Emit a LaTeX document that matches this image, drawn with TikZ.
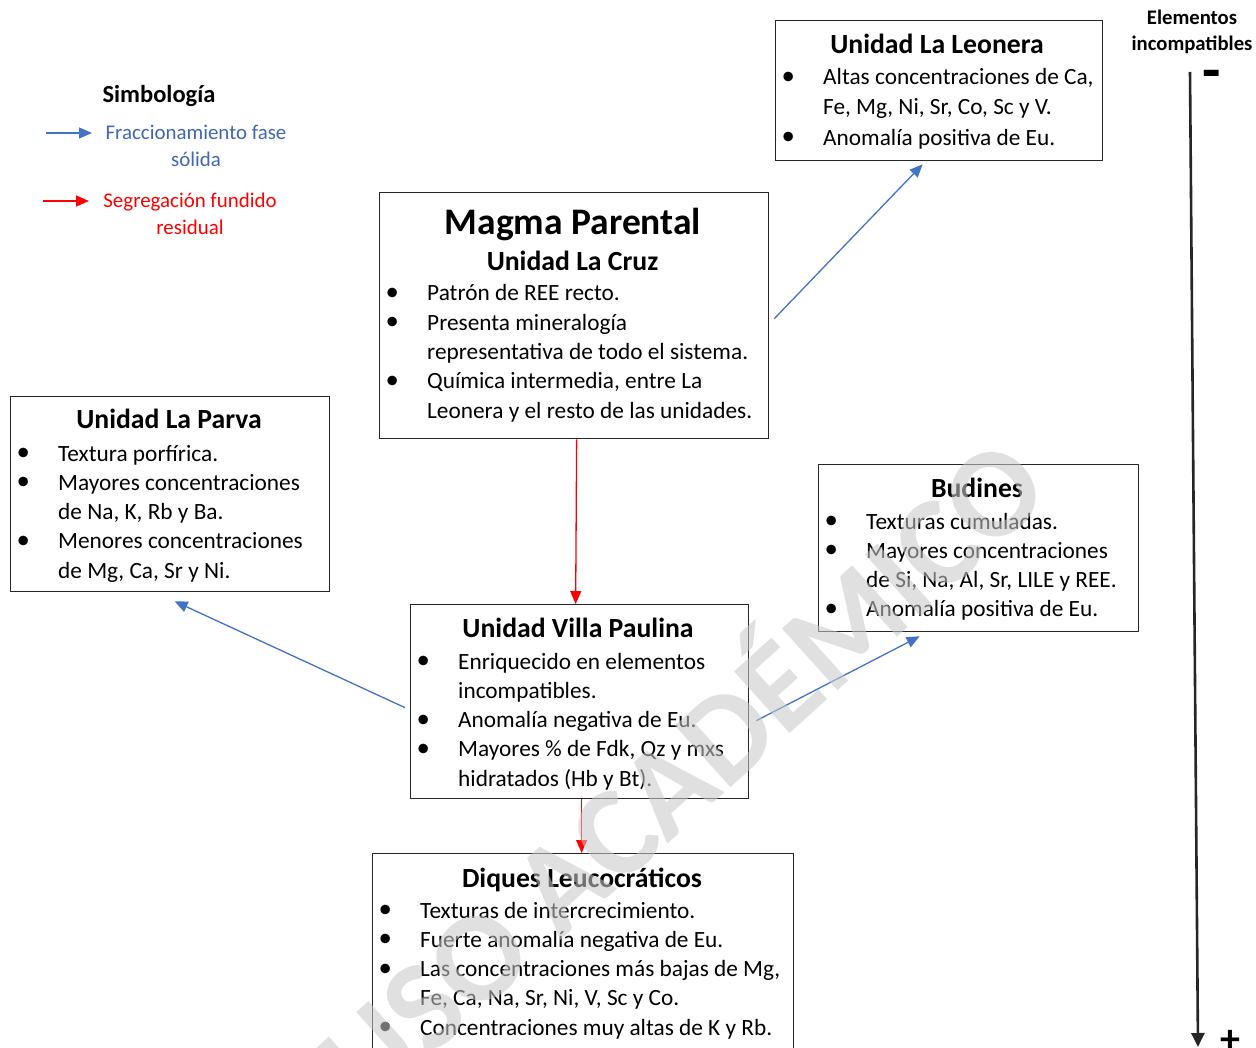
\documentclass[tikz,border=0pt]{standalone}
\usepackage{fontspec}
\setmainfont{Carlito}
\usetikzlibrary{arrows.meta}
\definecolor{fblue}{HTML}{4472C4}
\definecolor{ftext}{HTML}{4066B4}
\definecolor{fred}{HTML}{FF0000}
\definecolor{wm}{gray}{0.79}
\newcommand{\bul}{\raisebox{0.5pt}{\scalebox{1.15}{\textbullet}}}
\tikzset{
  box/.style={draw=black!85, line width=1.3pt, rectangle, inner sep=0pt, anchor=north west},
  ttl/.style={anchor=base, inner sep=0pt, font=\bfseries\fontsize{27.7}{33}\selectfont},
  body/.style={anchor=base west, inner sep=0pt, font=\fontsize{23.3}{29.3}\selectfont},
  blueflow/.style={draw=fblue, line width=1.3pt, -{Triangle[length=13pt,width=11pt]}},
  redflow/.style={draw=fred, line width=1.3pt, -{Triangle[length=13pt,width=11pt]}},
  legend/.style={anchor=base, inner sep=0pt, font=\fontsize{20.9}{27}\selectfont},
}
\newenvironment{blist}[1]{\begin{tabular}[t]{@{}p{#1}@{}l@{}}}{\end{tabular}}
\begin{document}
\begin{tikzpicture}[x=1pt,y=-1pt]
\useasboundingbox (0,0) rectangle (1256,1048);
\clip (0,0) rectangle (1256,1048);
\fill[white] (0,0) rectangle (1256,1048);

% --- legend ---
\node[anchor=base, inner sep=0pt, font=\bfseries\fontsize{24.5}{28}\selectfont] (simb) at (159,103) {Simbología};
\node[legend, text=ftext] (lgfrac) at (196,140) {\begin{tabular}[t]{@{}c@{}}Fraccionamiento fase\\sólida\end{tabular}};
\node[legend, text=fred] (lgseg) at (190,208) {\begin{tabular}[t]{@{}c@{}}Segregación fundido\\residual\end{tabular}};
\coordinate (lb1) at (46,133);
\coordinate (lb2) at (92,133);
\coordinate (lr1) at (43,201);
\coordinate (lr2) at (89,201);
\draw[blueflow] (lb1) -- (lb2);
\draw[redflow] (lr1) -- (lr2);

% --- Unidad La Leonera ---
\node[box, minimum width=327pt, minimum height=140pt] (leonera) at (775,20) {};
\node[ttl] (leoT) at (937,54) {Unidad La Leonera};
\node[body] (leoB) at (781.5,85) {\begin{blist}{41.5pt}
\bul & Altas concentraciones de Ca,\\
     & Fe, Mg, Ni, Sr, Co, Sc y V.\\[1.5pt]
\bul & Anomalía positiva de Eu.
\end{blist}};

% --- Magma Parental ---
\node[box, minimum width=389pt, minimum height=246pt] (magma) at (379,192) {};
\node[ttl, font=\bfseries\fontsize{37.5}{42}\selectfont] (magT) at (573,235) {Magma Parental};
\node[ttl] (magS) at (572.5,271) {Unidad La Cruz};
\node[body] (magB) at (385.5,301) {\begin{blist}{41.5pt}
\bul & Patrón de REE recto.\\
\bul & Presenta mineralogía\\
     & representativa de todo el sistema.\\
\bul & Química intermedia, entre La\\
     & Leonera y el resto de las unidades.
\end{blist}};

% --- Unidad La Parva ---
\node[box, minimum width=319pt, minimum height=195pt] (parva) at (10,396) {};
\node[ttl] (parT) at (169,429) {Unidad La Parva};
\node[body] (parB) at (16.5,461) {\begin{blist}{41.5pt}
\bul & Textura porfírica.\\
\bul & Mayores concentraciones\\
     & de Na, K, Rb y Ba.\\
\bul & Menores concentraciones\\
     & de Mg, Ca, Sr y Ni.
\end{blist}};

% --- Budines ---
\node[box, minimum width=320pt, minimum height=167pt] (budines) at (818,464) {};
\node[ttl] (budT) at (977,497) {Budines};
\node[body] (budB) at (824.5,529) {\begin{blist}{41.5pt}
\bul & Texturas cumuladas.\\
\bul & Mayores concentraciones\\
     & de Si, Na, Al, Sr, LILE y REE.\\
\bul & Anomalía positiva de Eu.
\end{blist}};

% --- Unidad Villa Paulina ---
\node[box, minimum width=338pt, minimum height=194pt] (villa) at (410,604) {};
\node[ttl] (vilT) at (578,637) {Unidad Villa Paulina};
\node[body] (vilB) at (416.5,669) {\begin{blist}{41.5pt}
\bul & Enriquecido en elementos\\
     & incompatibles.\\
\bul & Anomalía negativa de Eu.\\
\bul & Mayores \% de Fdk, Qz y mxs\\
     & hidratados (Hb y Bt).
\end{blist}};

% --- Diques Leucocráticos ---
\node[box, minimum width=421pt, minimum height=215pt] (diques) at (372,853) {};
\node[ttl] (diqT) at (582,887) {Diques Leucocráticos};
\node[body] (diqB) at (378.5,918) {\begin{blist}{41.5pt}
\bul & Texturas de intercrecimiento.\\
\bul & Fuerte anomalía negativa de Eu.\\
\bul & Las concentraciones más bajas de Mg,\\
     & Fe, Ca, Na, Sr, Ni, V, Sc y Co.\\
\bul & Concentraciones muy altas de K y Rb.
\end{blist}};

% --- flows between units ---
\draw[redflow] ([xshift=2.5pt]magma.south) -- ([xshift=-4pt]villa.north);
\draw[redflow] ([xshift=2pt]villa.south) -- ([xshift=-1.5pt]diques.north);
\draw[blueflow] ([xshift=5pt,yshift=-3pt]magma.east) -- ([xshift=-16.5pt,yshift=-3pt]leonera.south);
\draw[blueflow] ([xshift=-5pt,yshift=-6pt]villa.west) -- ([xshift=4.5pt,yshift=-9pt]parva.south);
\draw[blueflow] ([xshift=7pt,yshift=-19pt]villa.east) -- ([xshift=-59pt,yshift=-4pt]budines.south);

% --- incompatible elements axis ---
\node[anchor=base, inner sep=0pt, font=\bfseries\fontsize{20.7}{26}\selectfont] (elem) at (1192,25) {\begin{tabular}[t]{@{}c@{}}Elementos\\incompatibles\end{tabular}};
\coordinate (axtop) at (1190,72);
\coordinate (axbot) at (1198,1047);
\draw[line width=2.6pt, black!85, -{Triangle[length=14pt,width=13pt]}] (axtop) -- (axbot);
\node[anchor=base, inner sep=0pt, font=\bfseries\fontsize{60}{60}\selectfont] (minus) at (1212,91) {-};
\node[inner sep=0pt, font=\bfseries\fontsize{40}{40}\selectfont] (plus) at (1230,1041) {+};

% --- watermark ---
\node[rotate=42, opacity=0.57, text opacity=0.57, text=wm, inner sep=0pt, font=\bfseries\fontsize{128}{128}\selectfont] (wmark) at (675,766) {USO ACADÉMICO};
\end{tikzpicture}
\end{document}
